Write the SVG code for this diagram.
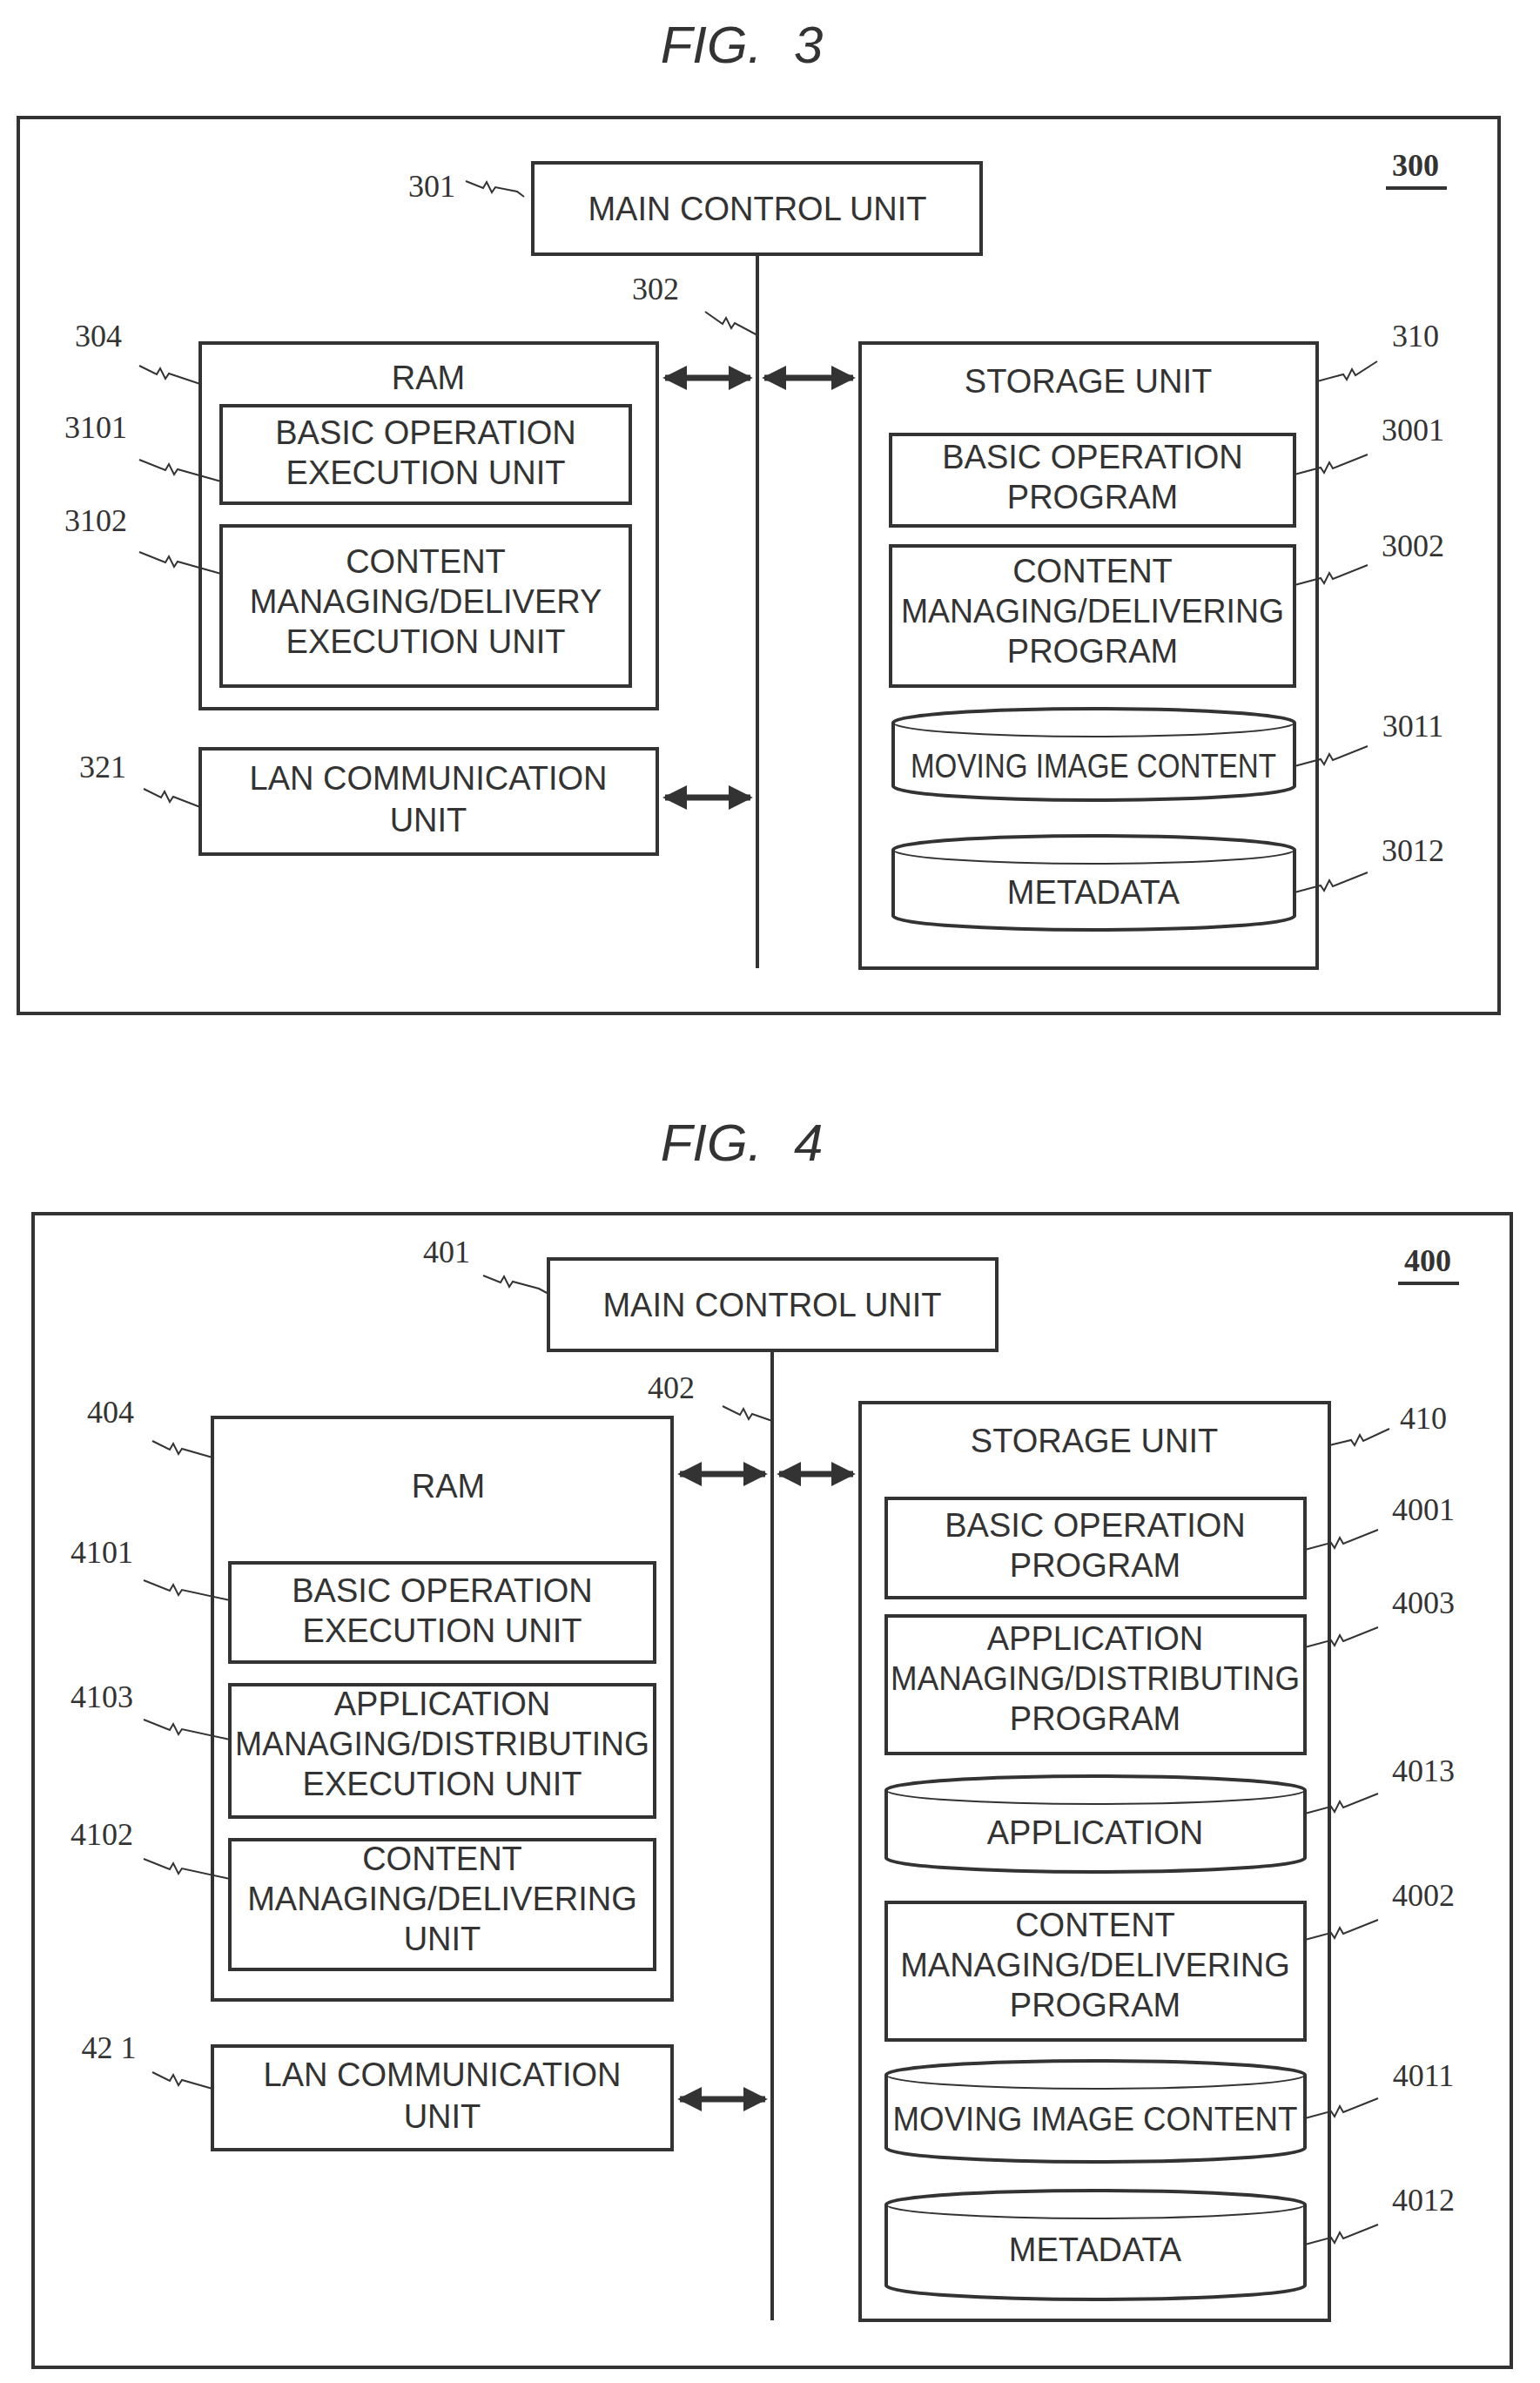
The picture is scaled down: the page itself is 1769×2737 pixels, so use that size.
<svg xmlns="http://www.w3.org/2000/svg" width="1769" height="2737" viewBox="0 0 1769 2737">
<style>
.b{fill:#fff;stroke:#333;stroke-width:4}
.f{fill:none;stroke:#333;stroke-width:4}
.t{font-family:"Liberation Sans",Arial,sans-serif;font-size:38px;fill:#333;text-anchor:middle}
.r{font-family:"Liberation Serif",serif;font-size:36px;fill:#333;text-anchor:middle}
.ti{font-family:"Liberation Sans",Arial,sans-serif;font-size:60px;font-style:italic;fill:#333;text-anchor:middle;word-spacing:20px}
.l{fill:none;stroke:#333;stroke-width:2}
.a{stroke:#333;stroke-width:7;fill:none;marker-start:url(#h);marker-end:url(#h)}
</style>
<defs>
<marker id="h" viewBox="0 0 10 10" refX="9" refY="5" markerWidth="4" markerHeight="4" orient="auto-start-reverse"><path d="M0,0 L10,5 L0,10 z" fill="#333"/></marker>
</defs>
<rect width="1769" height="2737" fill="#fff"/>
<text class="ti" x="852" y="72">FIG.  3</text>
<text class="ti" x="852" y="1333">FIG.  4</text>
<rect class="f" x="21" y="135" width="1701" height="1029"/>
<rect class="f" x="38" y="1394" width="1698" height="1325"/>
<g id="label300"><text class="r" x="1626" y="202" font-weight="bold">300</text><line class="f" x1="1592" y1="216" x2="1662" y2="216" stroke-width="3"/></g>
<g id="label400"><text class="r" x="1640" y="1460" font-weight="bold">400</text><line class="f" x1="1606" y1="1474" x2="1676" y2="1474" stroke-width="3"/></g>

<g id="connectors">
<line class="f" x1="870" y1="292" x2="870" y2="1112"/>
<line class="a" x1="764" y1="434" x2="862" y2="434"/>
<line class="a" x1="878" y1="434" x2="980" y2="434"/>
<line class="a" x1="764" y1="916" x2="862" y2="916"/>
<line class="f" x1="887" y1="1551" x2="887" y2="2665"/>
<line class="a" x1="781" y1="1693" x2="879" y2="1693"/>
<line class="a" x1="895" y1="1693" x2="980" y2="1693"/>
<line class="a" x1="781" y1="2411" x2="879" y2="2411"/>
</g>

<g id="n301"><rect class="b" x="612" y="187" width="515" height="105"/><text class="t" x="870" y="253">MAIN CONTROL UNIT</text></g>
<g id="n304"><rect class="b" x="230" y="394" width="525" height="420"/><text class="t" x="492" y="447">RAM</text></g>
<g id="n3101"><rect class="b" x="254" y="466" width="470" height="112"/><text class="t" x="489" y="510">BASIC OPERATION</text><text class="t" x="489" y="556">EXECUTION UNIT</text></g>
<g id="n3102"><rect class="b" x="254" y="604" width="470" height="184"/><text class="t" x="489" y="658">CONTENT</text><text class="t" x="489" y="704">MANAGING/DELIVERY</text><text class="t" x="489" y="750">EXECUTION UNIT</text></g>
<g id="n321"><rect class="b" x="230" y="860" width="525" height="121"/><text class="t" x="492" y="907">LAN COMMUNICATION</text><text class="t" x="492" y="955">UNIT</text></g>
<g id="n310"><rect class="b" x="988" y="394" width="525" height="718"/><text class="t" x="1250" y="451">STORAGE UNIT</text></g>
<g id="n3001"><rect class="b" x="1023" y="499" width="464" height="105"/><text class="t" x="1255" y="538">BASIC OPERATION</text><text class="t" x="1255" y="584">PROGRAM</text></g>
<g id="n3002"><rect class="b" x="1023" y="627" width="464" height="161"/><text class="t" x="1255" y="669">CONTENT</text><text class="t" x="1255" y="715" textLength="440" lengthAdjust="spacingAndGlyphs">MANAGING/DELIVERING</text><text class="t" x="1255" y="761">PROGRAM</text></g>
<g id="n3011"><path class="b" d="M1026,830 A230.5,16 0 0 1 1487,830 V903 A230.5,16 0 0 1 1026,903 Z"/><path class="l" stroke-width="4" d="M1026,830 A230.5,16 0 0 0 1487,830"/><text class="t" x="1256" y="893" font-size="36" textLength="420" lengthAdjust="spacingAndGlyphs">MOVING IMAGE CONTENT</text></g>
<g id="n3012"><path class="b" d="M1026,976 A230.5,16 0 0 1 1487,976 V1052 A230.5,16 0 0 1 1026,1052 Z"/><path class="l" stroke-width="4" d="M1026,976 A230.5,16 0 0 0 1487,976"/><text class="t" x="1256" y="1038" font-size="36">METADATA</text></g>

<g id="n401"><rect class="b" x="630" y="1446" width="515" height="105"/><text class="t" x="887" y="1512">MAIN CONTROL UNIT</text></g>
<g id="n404"><rect class="b" x="244" y="1628" width="528" height="669"/><text class="t" x="515" y="1720">RAM</text></g>
<g id="n4101"><rect class="b" x="264" y="1795" width="488" height="114"/><text class="t" x="508" y="1840">BASIC OPERATION</text><text class="t" x="508" y="1886">EXECUTION UNIT</text></g>
<g id="n4103"><rect class="b" x="264" y="1935" width="488" height="152"/><text class="t" x="508" y="1970">APPLICATION</text><text class="t" x="508" y="2016" textLength="476" lengthAdjust="spacingAndGlyphs">MANAGING/DISTRIBUTING</text><text class="t" x="508" y="2062">EXECUTION UNIT</text></g>
<g id="n4102"><rect class="b" x="264" y="2113" width="488" height="149"/><text class="t" x="508" y="2148">CONTENT</text><text class="t" x="508" y="2194">MANAGING/DELIVERING</text><text class="t" x="508" y="2240">UNIT</text></g>
<g id="n421"><rect class="b" x="244" y="2350" width="528" height="119"/><text class="t" x="508" y="2396">LAN COMMUNICATION</text><text class="t" x="508" y="2444">UNIT</text></g>
<g id="n410"><rect class="b" x="988" y="1611" width="539" height="1054"/><text class="t" x="1257" y="1668">STORAGE UNIT</text></g>
<g id="n4001"><rect class="b" x="1018" y="1721" width="481" height="114"/><text class="t" x="1258" y="1765">BASIC OPERATION</text><text class="t" x="1258" y="1811">PROGRAM</text></g>
<g id="n4003"><rect class="b" x="1018" y="1856" width="481" height="158"/><text class="t" x="1258" y="1895">APPLICATION</text><text class="t" x="1258" y="1941" textLength="470" lengthAdjust="spacingAndGlyphs">MANAGING/DISTRIBUTING</text><text class="t" x="1258" y="1987">PROGRAM</text></g>
<g id="n4013"><path class="b" d="M1018,2056 A240.5,16 0 0 1 1499,2056 V2134 A240.5,16 0 0 1 1018,2134 Z"/><path class="l" stroke-width="4" d="M1018,2056 A240.5,16 0 0 0 1499,2056"/><text class="t" x="1258" y="2118">APPLICATION</text></g>
<g id="n4002"><rect class="b" x="1018" y="2185" width="481" height="158"/><text class="t" x="1258" y="2224">CONTENT</text><text class="t" x="1258" y="2270">MANAGING/DELIVERING</text><text class="t" x="1258" y="2316">PROGRAM</text></g>
<g id="n4011"><path class="b" d="M1018,2383 A240.5,16 0 0 1 1499,2383 V2467 A240.5,16 0 0 1 1018,2467 Z"/><path class="l" stroke-width="4" d="M1018,2383 A240.5,16 0 0 0 1499,2383"/><text class="t" x="1258" y="2447" textLength="465" lengthAdjust="spacingAndGlyphs">MOVING IMAGE CONTENT</text></g>
<g id="n4012"><path class="b" d="M1018,2532 A240.5,16 0 0 1 1499,2532 V2625 A240.5,16 0 0 1 1018,2625 Z"/><path class="l" stroke-width="4" d="M1018,2532 A240.5,16 0 0 0 1499,2532"/><text class="t" x="1258" y="2597">METADATA</text></g>

<g id="labels">
<text class="r" x="496" y="226">301</text><path class="l" d="M535,208 l20,8 l4,-7 l6,12 l4,-6 l25,5 l8,6"/>
<text class="r" x="753" y="344">302</text><path class="l" d="M810,358 l20,14 l4,-7 l6,12 l4,-6 l26,14"/>
<text class="r" x="113" y="398">304</text><path class="l" d="M160,420 l20,10 l4,-7 l6,12 l4,-6 l36,12"/>
<text class="r" x="110" y="503">3101</text><path class="l" d="M160,528 l30,12 l4,-7 l6,12 l4,-6 l50,14"/>
<text class="r" x="110" y="610">3102</text><path class="l" d="M160,634 l30,12 l4,-7 l6,12 l4,-6 l50,14"/>
<text class="r" x="118" y="893">321</text><path class="l" d="M165,906 l20,10 l4,-7 l6,12 l4,-6 l31,12"/>
<text class="r" x="1626" y="398">310</text><path class="l" d="M1513,438 l30,-8 l4,6 l6,-12 l4,7 l25,-16"/>
<text class="r" x="1623" y="506">3001</text><path class="l" d="M1487,545 l30,-8 l4,6 l6,-12 l4,7 l40,-16"/>
<text class="r" x="1623" y="639">3002</text><path class="l" d="M1487,672 l30,-8 l4,6 l6,-12 l4,7 l40,-16"/>
<text class="r" x="1623" y="846">3011</text><path class="l" d="M1487,880 l30,-8 l4,6 l6,-12 l4,7 l40,-16"/>
<text class="r" x="1623" y="989">3012</text><path class="l" d="M1487,1025 l30,-8 l4,6 l6,-12 l4,7 l40,-16"/>
<text class="r" x="513" y="1450">401</text><path class="l" d="M555,1465 l20,8 l4,-7 l6,12 l4,-6 l30,8 l11,6"/>
<text class="r" x="771" y="1606">402</text><path class="l" d="M830,1615 l20,10 l4,-7 l6,12 l4,-6 l23,8"/>
<text class="r" x="127" y="1634">404</text><path class="l" d="M175,1655 l20,10 l4,-7 l6,12 l4,-6 l35,10"/>
<text class="r" x="117" y="1795">4101</text><path class="l" d="M165,1815 l30,12 l4,-7 l6,12 l4,-6 l55,12"/>
<text class="r" x="117" y="1961">4103</text><path class="l" d="M165,1975 l30,12 l4,-7 l6,12 l4,-6 l55,12"/>
<text class="r" x="117" y="2119">4102</text><path class="l" d="M165,2135 l30,12 l4,-7 l6,12 l4,-6 l55,12"/>
<text class="r" x="125" y="2364">42 1</text><path class="l" d="M175,2380 l20,10 l4,-7 l6,12 l4,-6 l35,10"/>
<text class="r" x="1635" y="1641">410</text><path class="l" d="M1527,1660 l25,-6 l4,6 l6,-12 l4,7 l30,-14"/>
<text class="r" x="1635" y="1746">4001</text><path class="l" d="M1499,1780 l30,-8 l4,6 l6,-12 l4,7 l40,-16"/>
<text class="r" x="1635" y="1853">4003</text><path class="l" d="M1499,1892 l30,-8 l4,6 l6,-12 l4,7 l40,-16"/>
<text class="r" x="1635" y="2046">4013</text><path class="l" d="M1499,2083 l30,-8 l4,6 l6,-12 l4,7 l40,-16"/>
<text class="r" x="1635" y="2189">4002</text><path class="l" d="M1499,2228 l30,-8 l4,6 l6,-12 l4,7 l40,-16"/>
<text class="r" x="1635" y="2396">4011</text><path class="l" d="M1499,2433 l30,-8 l4,6 l6,-12 l4,7 l40,-16"/>
<text class="r" x="1635" y="2539">4012</text><path class="l" d="M1499,2578 l30,-8 l4,6 l6,-12 l4,7 l40,-16"/>
</g>
</svg>
